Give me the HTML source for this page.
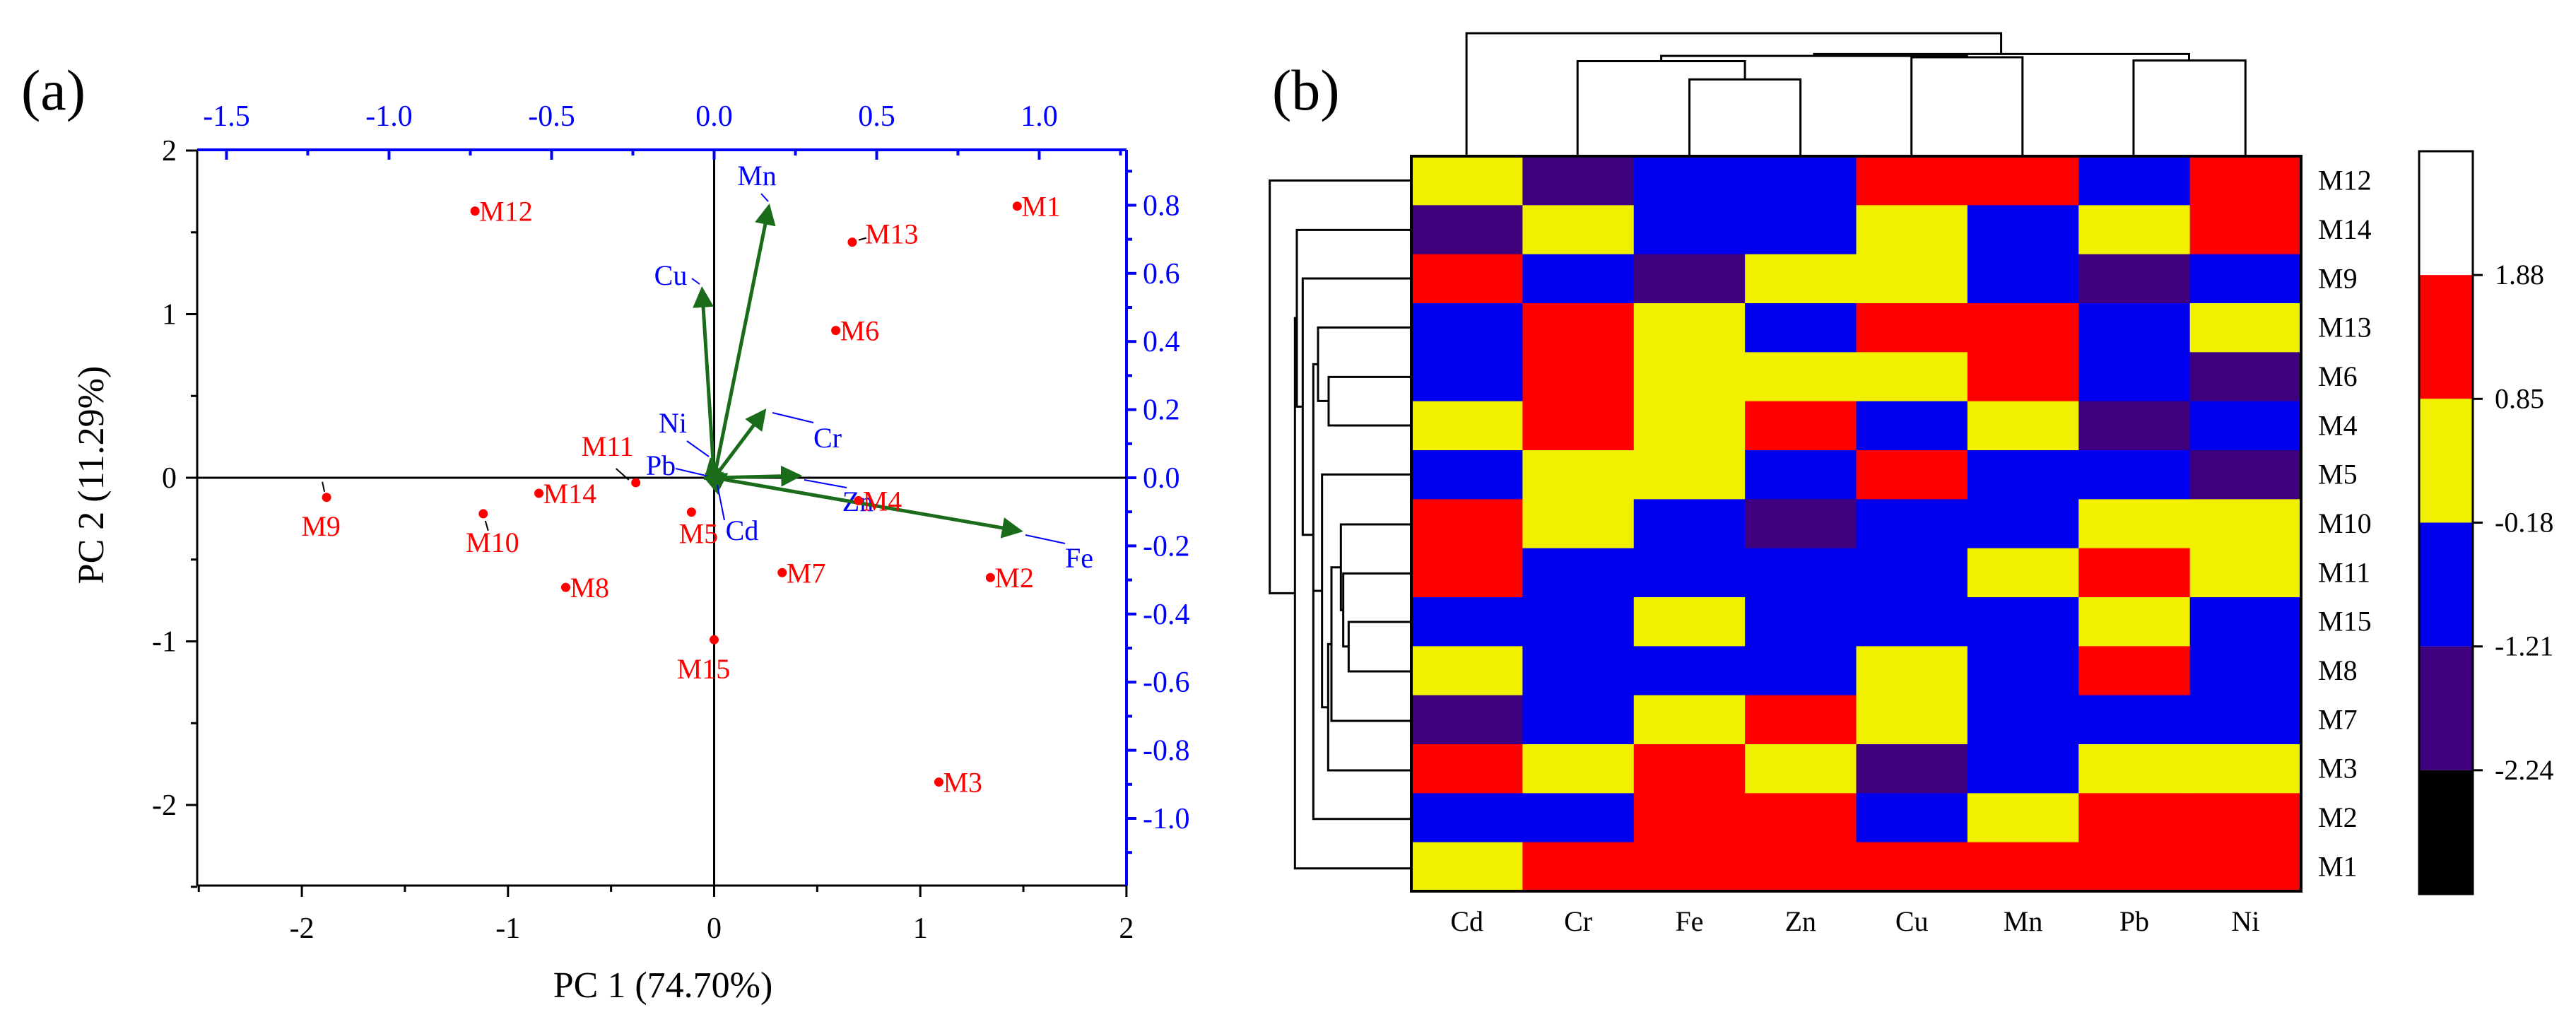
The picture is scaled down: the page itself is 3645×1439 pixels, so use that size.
<!DOCTYPE html>
<html><head><meta charset="utf-8"><style>
html,body{margin:0;padding:0;background:#fff}
svg{display:block}
text{font-family:"Liberation Serif",serif}
</style></head><body>
<svg id="fig" width="3645" height="1439" viewBox="0 0 3645 1439" xmlns="http://www.w3.org/2000/svg">
<rect width="3645" height="1439" fill="#fff"/>
<g id="pa"></g>
<g id="pb"></g>
</svg>
<script>
// ---------- Panel (a) data ----------
const sampleNames = ["M1","M2","M3","M4","M5","M6","M7","M8","M9","M10","M11","M12","M13","M14","M15"];
const pc1Scores = [1.47,1.34,1.09,0.70,-0.11,0.59,0.33,-0.72,-1.88,-1.12,-0.38,-1.16,0.67,-0.85,0.0];
const pc2Scores = [1.66,-0.61,-1.86,-0.14,-0.21,0.90,-0.58,-0.67,-0.12,-0.22,-0.03,1.63,1.44,-0.095,-0.99];
const loadingNames = ["Mn","Cu","Cr","Zn","Fe","Ni","Pb","Cd"];
const loadingX = [0.168,-0.037,0.154,0.26,0.94,-0.01,-0.02,0.01];
const loadingY = [0.795,0.552,0.195,0.006,-0.156,0.05,0.01,-0.04];
const bottomTicks = [-2,-1,0,1,2];
const leftTicks = [-2,-1,0,1,2];
const topTicks = ["-1.5","-1.0","-0.5","0.0","0.5","1.0"];
const rightTicks = ["0.8","0.6","0.4","0.2","0.0","-0.2","-0.4","-0.6","-0.8","-1.0"];

// ---------- Panel (b) data ----------
const heatCols = ["Cd","Cr","Fe","Zn","Cu","Mn","Pb","Ni"];
const heatRows = ["M12","M14","M9","M13","M6","M4","M5","M10","M11","M15","M8","M7","M3","M2","M1"];
const heatVals = [
 [0.3,-1.7,-0.7,-0.7,1.3,1.3,-0.7,1.3],
 [-1.7,0.3,-0.7,-0.7,0.3,-0.7,0.3,1.3],
 [1.3,-0.7,-1.7,0.3,0.3,-0.7,-1.7,-0.7],
 [-0.7,1.3,0.3,-0.7,1.3,1.3,-0.7,0.3],
 [-0.7,1.3,0.3,0.3,0.3,1.3,-0.7,-1.7],
 [0.3,1.3,0.3,1.3,-0.7,0.3,-1.7,-0.7],
 [-0.7,0.3,0.3,-0.7,1.3,-0.7,-0.7,-1.7],
 [1.3,0.3,-0.7,-1.7,-0.7,-0.7,0.3,0.3],
 [1.3,-0.7,-0.7,-0.7,-0.7,0.3,1.3,0.3],
 [-0.7,-0.7,0.3,-0.7,-0.7,-0.7,0.3,-0.7],
 [0.3,-0.7,-0.7,-0.7,0.3,-0.7,1.3,-0.7],
 [-1.7,-0.7,0.3,1.3,0.3,-0.7,-0.7,-0.7],
 [1.3,0.3,1.3,0.3,-1.7,-0.7,0.3,0.3],
 [-0.7,-0.7,1.3,1.3,-0.7,0.3,1.3,1.3],
 [0.3,1.3,1.3,1.3,1.3,1.3,1.3,1.3]
];
const colorBreaks = [2.91,1.88,0.85,-0.18,-1.21,-2.24,-3.27];
const colorBreakLabels = ["1.88","0.85","-0.18","-1.21","-2.24"];
const colorFills = ["#ffffff","#ff0000","#f0f000","#0000ee","#3f007d","#000000"];

const NS="http://www.w3.org/2000/svg";
function mk(tag,attrs,parent,txt){const e=document.createElementNS(NS,tag);for(const k in attrs)e.setAttribute(k,attrs[k]);if(txt!==undefined)e.textContent=txt;parent.appendChild(e);return e;}
const pa=document.getElementById('pa'), pb=document.getElementById('pb');

// axes functions
const X0=1010.5, Y0=676;
const sx=v=>X0+v*291.7, sy=v=>Y0-v*231.5;
const lx=v=>X0+v*460, ly=v=>Y0-v*482;
const L=279,R=1594,T=212,B=1253;
const BLUE="#0000ff";

// frame
let e;
e=mk('line',{x1:L,y1:B,x2:R,y2:B,stroke:'#000','stroke-width':3},pa);


e=mk('line',{x1:L,y1:T,x2:L,y2:B,stroke:'#000','stroke-width':3},pa);


e=mk('line',{x1:L,y1:T,x2:R,y2:T,stroke:BLUE,'stroke-width':4},pa);


e=mk('line',{x1:R,y1:T,x2:R,y2:B,stroke:BLUE,'stroke-width':4},pa);


e=mk('line',{x1:L,y1:Y0,x2:R,y2:Y0,stroke:'#000','stroke-width':3},pa);


e=mk('line',{x1:X0,y1:T,x2:X0,y2:B,stroke:'#000','stroke-width':3},pa);



// bottom ticks
for(let v=-2.5;v<=2.01;v+=0.5){const maj=Math.abs(v-Math.round(v))<1e-6;
 e=mk('line',{x1:sx(v),y1:B,x2:sx(v),y2:B+(maj?16:9),stroke:'#000','stroke-width':3},pa);
 
 }
bottomTicks.forEach(v=>{e=mk('text',{x:sx(v),y:1327,'font-size':42,'text-anchor':'middle'},pa,String(v));
 
 });
// left ticks
for(let v=-2.5;v<=2.01;v+=0.5){const maj=Math.abs(v-Math.round(v))<1e-6;
 e=mk('line',{x1:L,y1:sy(v),x2:L-(maj?16:9),y2:sy(v),stroke:'#000','stroke-width':3},pa);
 
 }
leftTicks.forEach(v=>{e=mk('text',{x:250,y:sy(v)+14,'font-size':42,'text-anchor':'end'},pa,String(v));
 
 });
// top ticks
for(let v=-1.5;v<=1.26;v+=0.25){const maj=Math.abs(v*2-Math.round(v*2))<1e-6;
 e=mk('line',{x1:lx(v),y1:T,x2:lx(v),y2:T+(maj?14:8),stroke:BLUE,'stroke-width':4},pa);
 
 }
topTicks.forEach(s=>{e=mk('text',{x:lx(parseFloat(s)),y:178,'font-size':42,'text-anchor':'middle',fill:BLUE},pa,s);
 
 });
// right ticks
for(let v=-1.1;v<=0.91;v+=0.1){const maj=Math.abs(v*5-Math.round(v*5))<1e-6;
 e=mk('line',{x1:R,y1:ly(v),x2:R+(maj?14:8),y2:ly(v),stroke:BLUE,'stroke-width':4},pa);
 
 }
rightTicks.forEach(s=>{e=mk('text',{x:1617,y:ly(parseFloat(s))+14,'font-size':42,fill:BLUE},pa,s);
 
 });

// titles
e=mk('text',{x:938,y:1411,'font-size':52,'text-anchor':'middle'},pa,'PC 1 (74.70%)');


e=mk('text',{x:0,y:0,'font-size':52,'text-anchor':'middle',transform:'translate(146,672) rotate(-90)'},pa,'PC 2 (11.29%)');


e=mk('text',{x:30,y:155,'font-size':82},pa,'(a)');



// arrows
const defs=mk('defs',{},pa);
const mkr=mk('marker',{id:'ah',markerWidth:6,markerHeight:6,refX:5,refY:3,orient:'auto',markerUnits:'strokeWidth'},defs);
mk('path',{d:'M0,0 L6,3 L0,6 Z',fill:'#1a6b1a'},mkr);
const loadLabelPos={Mn:[1071,262],Cu:[949,403],Cr:[1171,633],Zn:[1214,723],Fe:[1527,803],Ni:[952,612],Pb:[935,672],Cd:[1050,764]};
const leaders={Mn:[1077,274,1087,285],Cu:[979,394,990,402],Cr:[1093,584,1151,598],Zn:[1138,679,1198,690],Fe:[1451,757,1507,769],Ni:[972,624,1003,646],Pb:[956,663,1003,674],Cd:[1015,686,1025,736]};
loadingNames.forEach((n,i)=>{
 e=mk('line',{x1:X0,y1:Y0,x2:lx(loadingX[i]),y2:ly(loadingY[i]),stroke:'#1a6b1a','stroke-width':5,'marker-end':'url(#ah)'},pa);
 
 
 const ld=leaders[n];
 e=mk('line',{x1:ld[0],y1:ld[1],x2:ld[2],y2:ld[3],stroke:BLUE,'stroke-width':2},pa);
 
 
 const p=loadLabelPos[n];
 e=mk('text',{x:p[0],y:p[1],'font-size':40,fill:BLUE,'text-anchor':'middle'},pa,n);
 
 
});
mk('circle',{cx:X0,cy:Y0,r:8,fill:'#1a6b1a'},pa);

// scores
const labOff={M9:[-8,54,'middle'],M10:[13,54,'middle'],M11:[-40,-38,'middle'],M5:[10,44,'middle'],M15:[-15,55,'middle'],M13:[18,2,'start']};
sampleNames.forEach((n,i)=>{
 const x=sx(pc1Scores[i]),y=sy(pc2Scores[i]);
 e=mk('circle',{cx:x,cy:y,r:6.5,fill:'#ff0000'},pa);
 
 
 const o=labOff[n]||[6,14,'start'];
 e=mk('text',{x:x+o[0],y:y+o[1],'font-size':40,fill:'#ff0000','text-anchor':o[2]},pa,n);
 
 
});
// small black leaders
[[sampleNames.indexOf('M9'),-3,-8,-6,-22],[sampleNames.indexOf('M10'),3,10,7,24],[sampleNames.indexOf('M11'),-10,-4,-28,-20],[sampleNames.indexOf('M13'),9,-3,20,-6]].forEach(a=>{
 const x=sx(pc1Scores[a[0]]),y=sy(pc2Scores[a[0]]);
 e=mk('line',{x1:x+a[1],y1:y+a[2],x2:x+a[3],y2:y+a[4],stroke:'#000','stroke-width':2},pa);
 
 
});

// ---------- Panel (b) ----------
const HL=1997,HR=3256,HT=221,HB=1261;
const cw=(HR-HL)/heatCols.length, rh=(HB-HT)/heatRows.length;
const colX=j=>HL+j*cw, rowY=i=>HT+i*rh;
function colorOf(v){for(let k=0;k<colorFills.length;k++){if(v<=colorBreaks[k]&&v>colorBreaks[k+1])return colorFills[k];}return colorFills[colorFills.length-1];}
heatRows.forEach((r,i)=>heatCols.forEach((c,j)=>{
 e=mk('rect',{x:colX(j),y:rowY(i),width:cw+0.5,height:rh+0.5,fill:colorOf(heatVals[i][j])},pb);
 
 
}));
e=mk('rect',{x:HL,y:HT,width:HR-HL,height:HB-HT,fill:'none',stroke:'#000','stroke-width':4},pb);


heatRows.forEach((r,i)=>{e=mk('text',{x:3280,y:rowY(i)+rh/2+13,'font-size':40},pb,r);
 
 });
heatCols.forEach((c,j)=>{e=mk('text',{x:colX(j)+cw/2,y:1317,'font-size':40,'text-anchor':'middle'},pb,c);
 
 });
e=mk('text',{x:1800,y:155,'font-size':82},pb,'(b)');



// colorbar
const CL=3423,CW=76,CT=214,CB=1265;
const cby=v=>CT+(colorBreaks[0]-v)/(colorBreaks[0]-colorBreaks[colorBreaks.length-1])*(CB-CT);
colorFills.forEach((f,k)=>{e=mk('rect',{x:CL,y:cby(colorBreaks[k]),width:CW,height:cby(colorBreaks[k+1])-cby(colorBreaks[k]),fill:f},pb);
 
 });
e=mk('rect',{x:CL,y:CT,width:CW,height:CB-CT,fill:'none',stroke:'#000','stroke-width':3},pb);


colorBreakLabels.forEach(s=>{const y=cby(parseFloat(s));
 e=mk('line',{x1:CL+CW,y1:y,x2:CL+CW+14,y2:y,stroke:'#000','stroke-width':3},pb);
 
 
 e=mk('text',{x:3530,y:y+13,'font-size':40},pb,s);
 
 });

// dendrograms
function seg(g,pts,name){const d='M'+pts.map(p=>p.join(',')).join(' L');
 const p=mk('path',{d:d,fill:'none',stroke:'#000','stroke-width':3,'vector-effect':'non-scaling-stroke'},g);
 
 }
const gt=mk('g',{transform:'translate(1750,0) scale(1.2085,0.9207)'},pb);


[[[530,240],[530,122],[660,122],[660,240]],
 [[399,240],[399,94],[595,94],[595,122]],
 [[790,240],[790,88],[920,88],[920,240]],
 [[1050,240],[1050,93],[1181,93],[1181,240]],
 [[497,94],[497,86],[855,86],[855,88]],
 [[676,86],[676,83],[1115,83],[1115,93]],
 [[269,240],[269,51],[895,51],[895,83]]].forEach(p=>seg(gt,p,'dendro-link'));
const gl=mk('g',{transform:'translate(1780,230) scale(0.3333,0.6667)'},pb);


[[[650,455],[300,455],[300,558],[650,558]],
 [[650,350],[255,350],[255,506],[300,506]],
 [[650,975],[385,975],[385,1080],[650,1080]],
 [[650,872],[362,872],[362,1027],[385,1027]],
 [[650,768],[352,768],[352,950],[362,950]],
 [[650,1185],[312,1185],[312,859],[352,859]],
 [[650,1290],[298,1290],[298,1022],[312,1022]],
 [[650,662],[272,662],[272,1156],[298,1156]],
 [[255,428],[235,428],[235,1393],[650,1393]],
 [[272,909],[235,909]],
 [[235,790],[190,790],[190,246],[650,246]],
 [[190,518],[165,518],[165,143],[650,143]],
 [[165,330],[157,330],[157,1498],[650,1498]],
 [[157,914],[50,914],[50,38],[650,38]]].forEach(p=>seg(gl,p,'dendro-link'));
</script>
</body></html>
